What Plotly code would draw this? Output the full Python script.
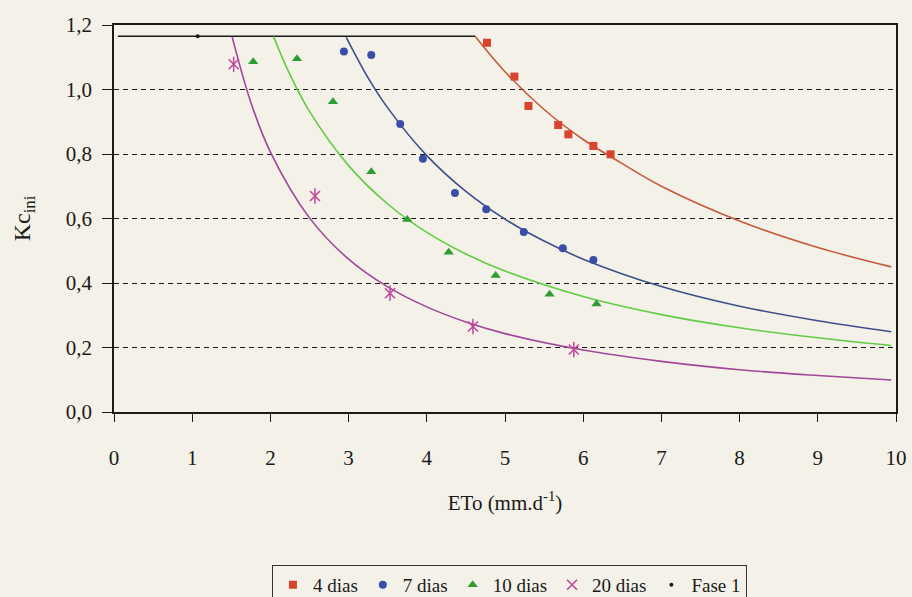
import plotly.graph_objects as go

# Observed points: ETo (mm/d) and Kc ini for each wetting interval
eto_4d = [4.77, 5.12, 5.30, 5.68, 5.81, 6.13, 6.35]
kc_4d = [1.145, 1.04, 0.949, 0.890, 0.861, 0.825, 0.799]

eto_7d = [2.94, 3.29, 3.66, 3.95, 4.36, 4.76, 5.24, 5.74, 6.13]
kc_7d = [1.118, 1.107, 0.893, 0.785, 0.679, 0.629, 0.558, 0.508, 0.471]

eto_10d = [1.78, 2.34, 2.80, 3.29, 3.75, 4.28, 4.88, 5.57, 6.17]
kc_10d = [1.086, 1.095, 0.962, 0.745, 0.597, 0.495, 0.423, 0.365, 0.335]

eto_20d = [1.53, 2.57, 3.53, 4.59, 5.88]
kc_20d = [1.078, 0.670, 0.368, 0.265, 0.194]

# Fitted curves
fit_x_4d = [4.62, 5.0, 5.5, 6.0, 6.5, 7.0, 8.0, 9.0, 9.94]
fit_y_4d = [1.164, 1.055, 0.938, 0.845, 0.770, 0.700, 0.592, 0.510, 0.450]

fit_x_7d = [2.97, 3.25, 3.5, 4.0, 4.5, 5.0, 5.5, 6.0, 7.0, 8.0, 9.0, 9.94]
fit_y_7d = [1.162, 1.036, 0.943, 0.795, 0.684, 0.598, 0.530, 0.474, 0.389, 0.328, 0.283, 0.249]

fit_x_10d = [2.04, 2.25, 2.5, 3.0, 3.5, 4.0, 4.5, 5.0, 6.0, 7.0, 8.0, 9.0, 9.94]
fit_y_10d = [1.164, 1.046, 0.932, 0.764, 0.645, 0.557, 0.490, 0.437, 0.358, 0.302, 0.261, 0.230, 0.206]

fit_x_20d = [1.51, 1.75, 2.0, 2.5, 3.0, 3.5, 4.0, 4.5, 5.0, 6.0, 7.0, 8.0, 9.0, 9.94]
fit_y_20d = [1.164, 0.960, 0.806, 0.602, 0.474, 0.388, 0.326, 0.279, 0.243, 0.192, 0.157, 0.131, 0.113, 0.099]

# Phase 1 plateau
fase1_x = [0.05, 4.62]
fase1_y = [1.165, 1.165]
fase1_pt_x = [1.07]
fase1_pt_y = [1.165]

x_ticks = list(range(0, 11))
y_ticks = [0.0, 0.2, 0.4, 0.6, 0.8, 1.0, 1.2]

FONT = "Liberation Serif"
BG = "#f3f1e8"

fig = go.Figure()

def curve(x, y, color):
    fig.add_trace(go.Scatter(x=x, y=y, mode="lines", line=dict(color=color, width=1.6, shape="spline"),
                             showlegend=False, hoverinfo="skip"))

curve(fase1_x, fase1_y, "#1a1a1a")
curve(fit_x_4d, fit_y_4d, "#c65b3a")
curve(fit_x_7d, fit_y_7d, "#3f4f8c")
curve(fit_x_10d, fit_y_10d, "#62cc45")
curve(fit_x_20d, fit_y_20d, "#a0479a")

fig.add_trace(go.Scatter(x=eto_4d, y=kc_4d, mode="markers", name="4 dias",
                         marker=dict(symbol="square", size=8, color="#d9442f")))
fig.add_trace(go.Scatter(x=eto_7d, y=kc_7d, mode="markers", name="7 dias",
                         marker=dict(symbol="circle", size=8, color="#3a4ea6")))
fig.add_trace(go.Scatter(x=eto_10d, y=kc_10d, mode="markers", name="10 dias",
                         marker=dict(symbol="triangle-up", size=9, color="#2e9c30")))
fig.add_trace(go.Scatter(x=eto_20d, y=kc_20d, mode="markers", name="20 dias",
                         marker=dict(symbol="x-thin-open", size=10, color="#c4449a",
                                     line=dict(width=1.5, color="#c4449a"))))
fig.add_trace(go.Scatter(x=eto_20d, y=kc_20d, mode="markers", showlegend=False,
                         marker=dict(symbol="line-ns-open", size=11, color="#c4449a",
                                     line=dict(width=1.5, color="#c4449a"))))
fig.add_trace(go.Scatter(x=fase1_pt_x, y=fase1_pt_y, mode="markers", name="Fase 1",
                         marker=dict(symbol="circle", size=4, color="#1a1a1a")))

fig.update_layout(
    width=912, height=597,
    margin=dict(l=114, r=16, t=25, b=185, autoexpand=False),
    paper_bgcolor=BG, plot_bgcolor=BG,
    separators=", ",
    font=dict(family=FONT, size=21, color="#1a1a1a"),
    showlegend=True,
    legend=dict(orientation="h", x=0.202, y=-0.395, xanchor="left", yanchor="top",
                bordercolor="#333333", borderwidth=1, bgcolor=BG,
                font=dict(family=FONT, size=19), itemwidth=30,
                tracegroupgap=0),
)

fig.update_xaxes(
    range=[0, 10], tickvals=x_ticks, showgrid=False, zeroline=False, automargin=False,
    showline=True, linecolor="#1a1a1a", linewidth=1.5, mirror=True,
    ticks="outside", ticklen=8, tickcolor="#1a1a1a", ticklabelstandoff=18,
    title=dict(text="ETo (mm.d<sup>-1</sup>)", standoff=26, font=dict(size=21)),
)
fig.update_yaxes(
    range=[0, 1.2], tickvals=y_ticks, tickformat=".1f", showgrid=True, automargin=False,
    gridcolor="#1a1a1a", gridwidth=1, griddash="5px,4px", zeroline=False,
    showline=True, linecolor="#1a1a1a", linewidth=1.5, mirror=True,
    ticks="outside", ticklen=10, tickcolor="#1a1a1a", ticklabelstandoff=6,
    title=dict(text="Kc<sub>ini</sub>", standoff=28, font=dict(size=24)),
)

fig.write_html("out.html")
